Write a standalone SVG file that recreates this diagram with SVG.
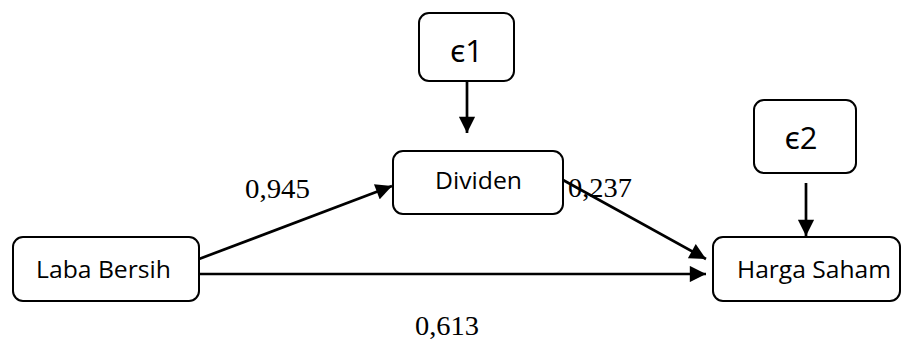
<svg xmlns="http://www.w3.org/2000/svg" width="902" height="340" viewBox="0 0 902 340">
<defs>
<style>
.box{fill:#fff;stroke:#000;stroke-width:2}
.lbl{font-family:"Open Sans","Noto Sans",sans-serif;font-size:23.5px;fill:#000}
.eps{font-family:"Open Sans","Noto Sans",sans-serif;font-size:31px;fill:#000}
.num{font-family:"Liberation Serif",serif;font-size:27px;fill:#000}
.edge{stroke:#000;stroke-width:2.7;fill:none}
</style>
<marker id="ah" viewBox="0 0 10 10" refX="10" refY="5" markerWidth="6.5" markerHeight="6" markerUnits="strokeWidth" orient="auto">
<path d="M0,0 L10,5 L0,10 Z" fill="#000"/>
</marker>
</defs>
<rect width="902" height="340" fill="#fff"/>
<g id="connectors">
<line class="edge" x1="467" y1="81" x2="467" y2="133" marker-end="url(#ah)"/>
<line class="edge" x1="806" y1="183" x2="806" y2="236" marker-end="url(#ah)"/>
<line class="edge" x1="199" y1="259" x2="392" y2="186" marker-end="url(#ah)"/>
<line class="edge" x1="563" y1="180" x2="706" y2="259" marker-end="url(#ah)"/>
<line class="edge" x1="199" y1="274" x2="706" y2="274" marker-end="url(#ah)"/>
</g>
<g id="eps1">
<rect class="box" x="419" y="13" width="95" height="68" rx="10"/>
<text class="eps" x="466.5" y="62" text-anchor="middle">ϵ1</text>
</g>
<g id="eps2">
<rect class="box" x="754" y="100" width="102" height="73" rx="10"/>
<text class="eps" x="801" y="149" text-anchor="middle">ϵ2</text>
</g>
<g id="dividen">
<rect class="box" x="393" y="151" width="170" height="63" rx="10"/>
<text class="lbl" x="435" y="189" textLength="87" lengthAdjust="spacingAndGlyphs">Dividen</text>
</g>
<g id="laba">
<rect class="box" x="13" y="237" width="186" height="64" rx="10"/>
<text class="lbl" x="36" y="278" textLength="135" lengthAdjust="spacingAndGlyphs">Laba Bersih</text>
</g>
<g id="harga">
<rect class="box" x="713" y="237" width="187" height="64" rx="10"/>
<text class="lbl" x="737" y="278" textLength="154" lengthAdjust="spacingAndGlyphs">Harga Saham</text>
</g>
<g id="labels">
<text class="num" x="245" y="198" textLength="65" lengthAdjust="spacingAndGlyphs">0,945</text>
<text class="num" x="568" y="197" textLength="64" lengthAdjust="spacingAndGlyphs">0,237</text>
<text class="num" x="415" y="335" textLength="64" lengthAdjust="spacingAndGlyphs">0,613</text>
</g>
</svg>
